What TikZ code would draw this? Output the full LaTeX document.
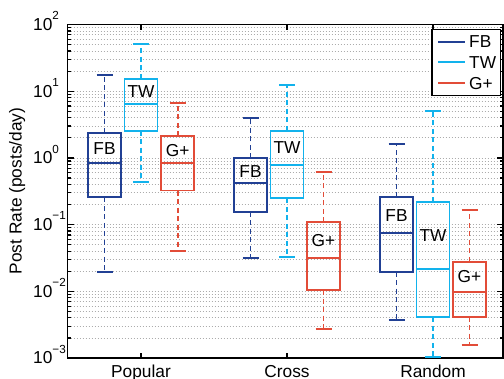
\documentclass[tikz,border=0pt]{standalone}
\usepackage{fontspec}
\setmainfont{Liberation Sans}
\definecolor{fbc}{RGB}{33,64,148}
\definecolor{twc}{RGB}{18,178,236}
\definecolor{gpc}{RGB}{226,76,56}
\tikzset{
  boxline/.style={line width=1.7bp},
  whisk/.style={line width=1.7bp, dash pattern=on 5bp off 3.5bp},
  gridline/.style={line width=0.8bp, gray!65, dash pattern=on 1bp off 2bp},
  frame/.style={line width=1.2bp, black},
  lab/.style={inner sep=0pt, font=\fontsize{17.3bp}{20bp}\selectfont},
}
\newcommand\mybox[8]{%
  \draw[#1, boxline] (#2-16.5,#3) rectangle (#2+16.5,#5);
  \draw[#1, boxline] (#2-16.5,#4) -- (#2+16.5,#4);
  \draw[#1, whisk] (#2,#3) -- (#2,#6);
  \draw[#1, whisk] (#2,#5) -- (#2,#7);
  \draw[#1, boxline] (#2-8,#6) -- (#2+8,#6);
  \draw[#1, boxline] (#2-8,#7) -- (#2+8,#7);
  \node[lab, anchor=base] at (#2, {(#3+#4)/2+6.2}) {#8};
}
\newcommand\ticklab[2]{10\raisebox{10.7bp}{\fontsize{11.7bp}{13bp}\selectfont #2}}
\begin{document}
\begin{tikzpicture}[x=1bp, y=-1bp]
\useasboundingbox (0,0) rectangle (504,378);
% grid
\foreach \n in {-3,...,1} {
  \foreach \k in {1,...,9} {
    \pgfmathsetmacro\yy{358-66.7*(\n+3+ln(\k)/ln(10))}
    \draw[gridline] (67.5,\yy) -- (503,\yy);
    \ifnum\k=1
      \draw[frame] (67.5,\yy) -- (73.5,\yy);
      \draw[frame] (503,\yy) -- (497,\yy);
    \else
      \draw[frame] (67.5,\yy) -- (71,\yy);
      \draw[frame] (503,\yy) -- (499.5,\yy);
    \fi
  }
}
% x ticks
\foreach \xx in {141,287,433} {
  \draw[frame] (\xx,358) -- (\xx,353);
  \draw[frame] (\xx,24.5) -- (\xx,29.5);
}
% frame
\draw[frame] (67.5,24.5) rectangle (503,358);
% y tick labels
\node[lab, anchor=base west] at (33,{24.5+5.8}) {\ticklab{}{2}};
\node[lab, anchor=base west] at (33,{91.2+5.8}) {\ticklab{}{1}};
\node[lab, anchor=base west] at (33,{157.9+5.8}) {\ticklab{}{0}};
\node[lab, anchor=base west] at (33,{224.6+5.8}) {\ticklab{}{−1}};
\node[lab, anchor=base west] at (33,{291.3+5.8}) {\ticklab{}{−2}};
\node[lab, anchor=base west] at (33,{358+5.8}) {\ticklab{}{−3}};
% x labels
\node[lab, anchor=base] (pop) at (141,377) {Popular};
\node[lab, anchor=base] (cro) at (287,377) {Cross};
\node[lab, anchor=base] (ran) at (433,377) {Random};
% y label
\node[lab, anchor=base, rotate=90] (ylab) at (21.5,191) {Post Rate (posts/day)};
% boxes
\mybox{fbc}{104.5}{132.7}{163}{197.3}{75}{272.3}{FB}
\mybox{twc}{141}{78.7}{104.3}{130.7}{43.7}{182}{TW}
\mybox{gpc}{177.7}{136.3}{163.3}{190.5}{103}{250.7}{G+}
\mybox{fbc}{250.5}{158.3}{183.3}{211.7}{118.3}{258.3}{FB}
\mybox{twc}{287}{130.7}{164.7}{198.3}{84.7}{257}{TW}
\mybox{gpc}{323.5}{222.3}{257.7}{290}{171.7}{329.3}{G+}
\mybox{fbc}{396.5}{197.3}{233.3}{271.7}{144.3}{320}{FB}
\mybox{twc}{433}{201.7}{269.3}{317.3}{111.3}{356.7}{TW}
\mybox{gpc}{469.5}{261.7}{291.7}{316.7}{210.3}{345}{G+}
% legend
\draw[frame, fill=white] (432,29.3) rectangle (500.3,95.7);
\draw[fbc, line width=2.2bp] (438.3,41.7) -- (465,41.7);
\draw[twc, line width=2.2bp] (438.3,62.3) -- (465,62.3);
\draw[gpc, line width=2.2bp] (438.3,83.3) -- (465,83.3);
\node[lab, anchor=base west] (l1) at (469,{41.7+6.2}) {FB};
\node[lab, anchor=base west] (l2) at (469,{62.3+6.2}) {TW};
\node[lab, anchor=base west] (l3) at (469,{83.3+6.2}) {G+};
\end{tikzpicture}
\end{document}
